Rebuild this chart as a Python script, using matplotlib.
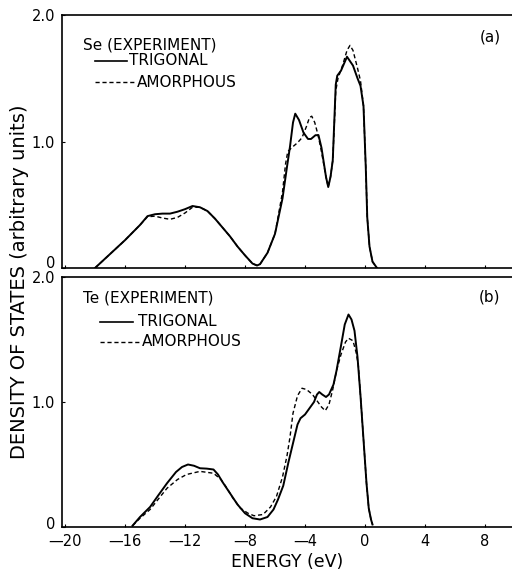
import matplotlib
matplotlib.use("Agg")
import matplotlib.pyplot as plt
import matplotlib.transforms as mtransforms

plt.rcParams['font.family'] = ['DejaVu Sans']

# ---- Se (panel a) ----
se_tri_E = [-18.0, -17.0, -16.0, -15.0, -14.5, -14.0, -13.5, -13.0, -12.5, -12.0, -11.5, -11.0,
            -10.5, -10.0, -9.5, -9.0, -8.5, -8.0, -7.5, -7.2, -7.0, -6.5, -6.0, -5.5, -5.2,
            -5.0, -4.8, -4.65, -4.4, -4.1, -3.8, -3.6, -3.3, -3.1, -2.9, -2.6, -2.45, -2.3,
            -2.15, -2.05, -1.95, -1.85, -1.6, -1.2, -0.8, -0.5, -0.3, -0.1, 0.05, 0.15, 0.3,
            0.5, 0.8]
se_tri_D = [0.0, 0.11, 0.22, 0.34, 0.41, 0.425, 0.43, 0.43, 0.445, 0.465, 0.49, 0.48,
            0.45, 0.39, 0.32, 0.25, 0.17, 0.10, 0.035, 0.02, 0.03, 0.12, 0.27, 0.55, 0.80,
            0.96, 1.15, 1.22, 1.17, 1.07, 1.02, 1.02, 1.05, 1.05, 0.95, 0.72, 0.64, 0.72,
            0.85, 1.15, 1.45, 1.52, 1.56, 1.67, 1.60, 1.50, 1.44, 1.28, 0.80, 0.40, 0.17,
            0.05, 0.0]

se_amo_E = [-18.0, -17.0, -16.0, -15.0, -14.5, -14.0, -13.5, -13.0, -12.5, -12.0, -11.5, -11.0,
            -10.5, -10.0, -9.5, -9.0, -8.5, -8.0, -7.5, -7.2, -7.0, -6.5, -6.0, -5.5, -5.3,
            -5.15, -4.9, -4.5, -4.2, -3.9, -3.7, -3.55, -3.35, -3.15, -2.95, -2.6, -2.45,
            -2.3, -2.15, -2.05, -1.95, -1.8, -1.5, -1.2, -1.0, -0.8, -0.5, -0.3, -0.1, 0.05,
            0.15, 0.3, 0.5, 0.8]
se_amo_D = [0.0, 0.11, 0.22, 0.34, 0.405, 0.41, 0.395, 0.385, 0.40, 0.435, 0.48, 0.48,
            0.45, 0.39, 0.32, 0.25, 0.17, 0.10, 0.035, 0.02, 0.03, 0.12, 0.27, 0.60, 0.82,
            0.92, 0.95, 0.99, 1.03, 1.12, 1.19, 1.20, 1.15, 1.06, 0.95, 0.72, 0.64,
            0.72, 0.85, 1.12, 1.40, 1.50, 1.60, 1.72, 1.76, 1.72, 1.58, 1.48, 1.28, 0.80,
            0.40, 0.17, 0.05, 0.0]

# ---- Te (panel b) ----
te_tri_E = [-15.5, -15.0, -14.33, -13.8, -13.2, -12.6, -12.2, -11.8, -11.4, -11.0, -10.55,
            -10.1, -9.8, -9.5, -9.0, -8.5, -8.0, -7.5, -7.0, -6.5, -6.1, -5.8, -5.45, -5.1,
            -4.8, -4.5, -4.3, -4.0, -3.7, -3.4, -3.2, -3.05, -2.85, -2.6, -2.4, -2.1, -1.9,
            -1.6, -1.35, -1.1, -0.9, -0.7, -0.5, -0.3, -0.1, 0.1, 0.25, 0.4, 0.5]
te_tri_D = [0.01, 0.08, 0.16, 0.25, 0.35, 0.44, 0.48, 0.50, 0.49, 0.47, 0.467,
            0.46, 0.42, 0.36, 0.27, 0.18, 0.11, 0.07, 0.06, 0.08, 0.14, 0.22, 0.33, 0.52,
            0.67, 0.82, 0.87, 0.90, 0.95, 1.00, 1.06, 1.08, 1.06, 1.04, 1.06, 1.14, 1.25,
            1.45, 1.62, 1.70, 1.66, 1.57, 1.36, 1.05, 0.70, 0.35, 0.15, 0.06, 0.02]

te_amo_E = [-15.5, -15.0, -14.33, -13.8, -13.2, -12.5, -11.9, -11.0, -10.1, -9.6, -9.2,
            -8.8, -8.3, -7.8, -7.4, -6.8, -6.3, -5.9, -5.5, -5.2, -5.0, -4.8, -4.5, -4.2,
            -3.9, -3.5, -3.2, -2.9, -2.65, -2.4, -2.15, -1.9, -1.6, -1.3, -1.1, -0.8, -0.6,
            -0.45, -0.3, -0.1, 0.1, 0.25, 0.4, 0.5]
te_amo_D = [0.01, 0.07, 0.14, 0.22, 0.31, 0.38, 0.42, 0.445, 0.43, 0.38, 0.31,
            0.23, 0.15, 0.11, 0.09, 0.10, 0.16, 0.245, 0.40, 0.57, 0.72, 0.91, 1.05, 1.11,
            1.10, 1.06, 1.01, 0.96, 0.93, 0.98, 1.10, 1.25, 1.38, 1.48, 1.51, 1.49, 1.40,
            1.30, 1.05, 0.70, 0.35, 0.15, 0.06, 0.02]

x_ticks = [-20, -16, -12, -8, -4, 0, 4, 8]
x_tick_labels = ['\u201420', '\u201416', '\u201412', '\u20148', '\u20144', '0', '4', '8']
y_ticks = [0, 1.0, 2.0]
y_tick_labels = ['0', '1.0', '2.0']

W, H = 512, 572
fig = plt.figure(figsize=(W / 100, H / 100), dpi=100)

def px_axes(left, top, right, bottom):
    return fig.add_axes([left / W, 1 - bottom / H, (right - left) / W, (bottom - top) / H])

ax1 = px_axes(62, 15, 512, 268)
ax2 = px_axes(62, 277, 512, 527)

# key layout per panel: (title y, tag y, solid x0, x1, text x, y, dashed x0, x1, text x, y)
panels = [
    (ax1, se_tri_E, se_tri_D, se_amo_E, se_amo_D, 'Se (EXPERIMENT)', '(a)',
     0.883, 0.913, (-18.0, -15.9, -15.75, 1.64), (-18.0, -15.35, -15.2, 1.47)),
    (ax2, te_tri_E, te_tri_D, te_amo_E, te_amo_D, 'Te (EXPERIMENT)', '(b)',
     0.915, 0.92, (-17.7, -15.5, -15.15, 1.64), (-17.7, -15.0, -14.9, 1.48)),
]

for (ax, tE, tD, aE, aD, title, tag, ty, gy, kt, ka) in panels:
    ax.plot(tE, tD, color='black', lw=1.4, ls='-', solid_joinstyle='round')
    ax.plot(aE, aD, color='black', lw=1.0, ls=(0, (3.0, 2.0)))
    ax.set_xlim(-20.2, 9.8)
    ax.set_ylim(0, 2.0)
    ax.set_yticks(y_ticks)
    ax.set_yticklabels(y_tick_labels)
    ax.set_xticks(x_ticks)
    ax.tick_params(direction='in', length=2, width=0.8, labelsize=10.5, pad=5)
    ax.spines['right'].set_visible(False)
    for s in ['left', 'top', 'bottom']:
        ax.spines[s].set_linewidth(1.2)
    ax.text(0.047, ty, title, transform=ax.transAxes, fontsize=11, va='center', ha='left')
    ax.text(0.975, gy, tag, transform=ax.transAxes, fontsize=11, va='center', ha='right')
    ax.plot([kt[0], kt[1]], [kt[3]] * 2, color='black', lw=1.2)
    ax.text(kt[2], kt[3], 'TRIGONAL', fontsize=11, va='center', ha='left')
    ax.plot([ka[0], ka[1]], [ka[3]] * 2, color='black', lw=1.0, ls=(0, (3.0, 2.0)))
    ax.text(ka[2], ka[3], 'AMORPHOUS', fontsize=11, va='center', ha='left')

ax1.tick_params(labelbottom=False)
ax2.set_xticklabels(x_tick_labels)
ax2.set_xlabel('ENERGY (eV)', fontsize=12.5, labelpad=3)

# lift the "0" tick labels slightly, as in the original
for ax, dy in ((ax1, 0.06), (ax2, 0.04)):
    lbl = ax.yaxis.get_major_ticks()[0].label1
    lbl.set_transform(lbl.get_transform() + mtransforms.ScaledTranslation(0, dy, fig.dpi_scale_trans))

fig.text(20 / W, 1 - 282 / H, 'DENSITY OF STATES (arbitrary units)', rotation=90,
         fontsize=14, ha='center', va='center')

fig.savefig('out.png', dpi=100)
